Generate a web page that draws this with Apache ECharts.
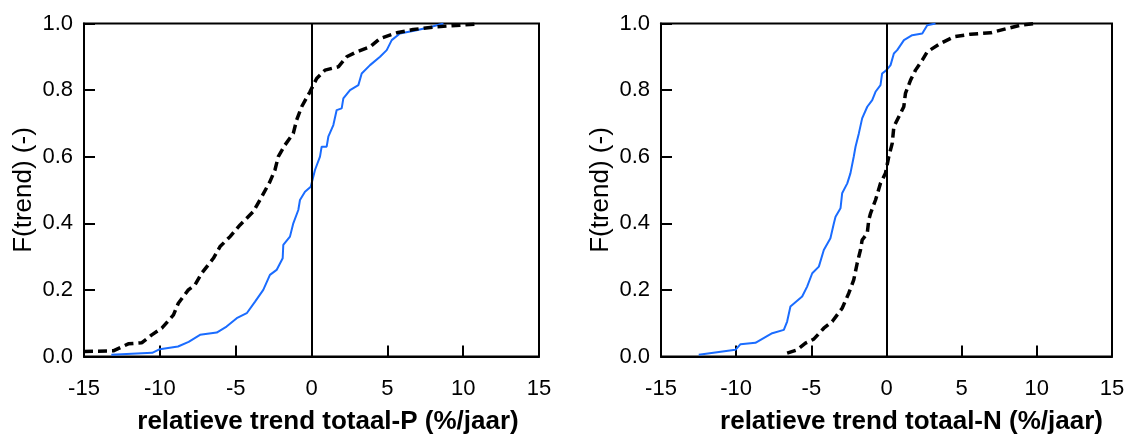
<!DOCTYPE html>
<html>
<head>
<meta charset="utf-8">
<script src="https://cdn.jsdelivr.net/npm/echarts@6/dist/echarts.min.js"></script>
<style>html,body{margin:0;padding:0;background:#fff}#c{width:1127px;height:436px}</style>
</head>
<body>
<div id="c"></div>
<script>
// Tick values
var xTicks = [-15, -10, -5, 0, 5, 10, 15];
var yTicks = [0, 0.2, 0.4, 0.6, 0.8, 1.0];
var xTitles = ['relatieve trend totaal-P (%/jaar)', 'relatieve trend totaal-N (%/jaar)'];
var yTitle = 'F(trend) (-)';

// Left panel (totaal-P), solid blue
var pSolidX = [-13.2,-10.5,-10.0,-8.8,-8.1,-7.35,-6.25,-5.6,-4.93,-4.27,-3.72,-3.18,-2.74,-2.3,-1.9,-1.86,-1.42,-1.2,-0.87,-0.76,-0.43,-0.05,0.23,0.56,0.67,1.0,1.11,1.44,1.66,1.99,2.1,2.54,3.09,3.31,3.86,4.52,4.96,5.29,5.83,6.93,8.03,8.7];
var pSolidY = [0.005,0.011,0.022,0.03,0.044,0.065,0.072,0.09,0.115,0.13,0.165,0.2,0.245,0.26,0.295,0.335,0.36,0.4,0.44,0.47,0.495,0.51,0.56,0.6,0.63,0.63,0.66,0.695,0.74,0.745,0.775,0.8,0.815,0.85,0.875,0.9,0.92,0.95,0.97,0.98,0.992,1.0];
// Left panel (totaal-P), dashed black
var pDashX = [-15,-13.07,-12.08,-11.2,-10.53,-9.87,-9.1,-8.78,-8.12,-7.68,-7.24,-6.47,-6.03,-5.37,-4.71,-3.84,-3.28,-2.74,-2.41,-2.19,-1.75,-1.2,-0.98,-0.65,-0.1,0.34,0.89,1.77,2.32,2.98,3.86,4.52,5.62,6.71,8.25,9.79,10.9];
var pDashY = [0.015,0.017,0.038,0.041,0.065,0.085,0.125,0.16,0.2,0.215,0.25,0.295,0.33,0.36,0.395,0.435,0.48,0.525,0.56,0.6,0.635,0.67,0.71,0.75,0.795,0.835,0.86,0.87,0.9,0.915,0.93,0.955,0.972,0.982,0.99,0.995,0.998];
// Right panel (totaal-N), solid blue
var nSolidX = [-12.49,-10.05,-9.71,-8.72,-7.6,-6.83,-6.61,-6.39,-5.61,-5.28,-4.94,-4.5,-4.17,-3.73,-3.5,-3.39,-3.06,-2.95,-2.61,-2.4,-2.18,-2.06,-1.84,-1.62,-1.28,-0.95,-0.73,-0.4,-0.29,0.0,0.27,0.49,0.71,1.16,1.71,2.38,2.71,3.26];
var nSolidY = [0.005,0.02,0.037,0.041,0.07,0.08,0.105,0.15,0.18,0.21,0.25,0.27,0.32,0.355,0.4,0.42,0.445,0.49,0.52,0.55,0.6,0.63,0.67,0.715,0.75,0.77,0.795,0.815,0.85,0.86,0.875,0.91,0.92,0.95,0.965,0.97,0.995,1.0];
// Right panel (totaal-N), dashed black
var nDashX = [-6.61,-5.94,-5.39,-4.84,-4.17,-3.61,-2.95,-2.51,-2.18,-1.95,-1.73,-1.62,-1.28,-1.18,-1.06,-0.73,-0.4,-0.07,0.15,0.38,0.49,0.93,1.15,1.26,1.6,1.93,2.38,2.71,3.59,4.48,5.59,6.92,8.03,8.92,9.91];
var nDashY = [0.01,0.02,0.04,0.052,0.085,0.105,0.145,0.19,0.23,0.28,0.32,0.35,0.37,0.41,0.43,0.47,0.52,0.55,0.6,0.64,0.69,0.73,0.75,0.79,0.83,0.86,0.89,0.915,0.94,0.96,0.968,0.972,0.985,0.995,1.0];

function pairs(xs, ys){ return xs.map(function(x,i){ return [x, ys[i]]; }); }

var FONT = '"Liberation Sans", Arial, sans-serif';
var BLUE = '#1a6cff';
var titleShift = [33, 50];

function xAxisFor(i){
  return {
    type:'value', gridIndex:i, min:-15, max:15, interval:5,
    name: xTitles[i], nameLocation:'middle', nameGap:52,
    nameTextStyle:{fontFamily:FONT, fontSize:26, fontWeight:'bold', color:'#000',
      padding:[0,0,0,titleShift[i]]},
    axisLine:{show:true, onZero:false, lineStyle:{color:'#000', width:2}},
    axisTick:{show:true, inside:true, length:11, lineStyle:{color:'#000', width:2}},
    axisLabel:{fontFamily:FONT, fontSize:22, color:'#000', margin:21},
    splitLine:{show:false}
  };
}
function yAxisFor(i){
  return {
    type:'value', gridIndex:i, min:0, max:1, interval:0.2,
    name: yTitle, nameLocation:'middle', nameGap:47,
    nameTextStyle:{fontFamily:FONT, fontSize:26, color:'#000'},
    axisLine:{show:true, onZero:false, lineStyle:{color:'#000', width:2}},
    axisTick:{show:true, inside:true, length:11, lineStyle:{color:'#000', width:2}},
    axisLabel:{fontFamily:FONT, fontSize:22, color:'#000', margin:11,
      formatter:function(v){ return v.toFixed(1); }},
    splitLine:{show:false}
  };
}
function solid(i, xs, ys){
  return {type:'line', xAxisIndex:i, yAxisIndex:i, data:pairs(xs,ys), showSymbol:false,
    lineStyle:{color:BLUE, width:2}, itemStyle:{color:BLUE}, z:3, silent:true};
}
function dashed(i, xs, ys){
  return {type:'line', xAxisIndex:i, yAxisIndex:i, data:pairs(xs,ys), showSymbol:false,
    lineStyle:{color:'#000', width:3.5, type:[9,5]}, itemStyle:{color:'#000'}, z:4, silent:true,
    markLine:{silent:true, symbol:['none','none'], label:{show:false},
      lineStyle:{color:'#000', width:2, type:'solid'}, data:[{xAxis:0}]}};
}

var chart = echarts.init(document.getElementById('c'), null, {renderer:'canvas'});
chart.setOption({
  animation:false,
  backgroundColor:'#fff',
  grid:[
    {left:84, right:588, top:23.5, bottom:79.5, show:true, borderColor:'#000', borderWidth:2, backgroundColor:'transparent', containLabel:false, outerBoundsMode:'none'},
    {left:661, right:15, top:23.5, bottom:79.5, show:true, borderColor:'#000', borderWidth:2, backgroundColor:'transparent', containLabel:false, outerBoundsMode:'none'}
  ],
  xAxis:[xAxisFor(0), xAxisFor(1)],
  yAxis:[yAxisFor(0), yAxisFor(1)],
  series:[
    solid(0, pSolidX, pSolidY),
    dashed(0, pDashX, pDashY),
    solid(1, nSolidX, nSolidY),
    dashed(1, nDashX, nDashY)
  ]
});
</script>
</body>
</html>
